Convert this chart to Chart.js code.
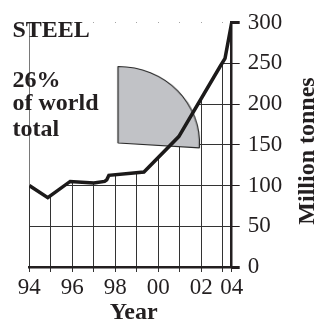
<!DOCTYPE html>
<html>
<head>
<meta charset="utf-8">
<title>Steel</title>
<script src="https://cdn.jsdelivr.net/npm/chart.js@4.4.1/dist/chart.umd.min.js"></script>
<style>
  html, body { margin: 0; padding: 0; background: #fff; }
  #stage { position: relative; width: 315px; height: 320px; overflow: hidden;
           font-family: 'Liberation Serif', 'Times New Roman', serif; color: #231f20; }
  .layer { position: absolute; left: 0; top: 0; width: 315px; height: 320px; }
  #pie-wrap { position: absolute; left: 40.3px; top: 65.3px; width: 156px; height: 156px;
              transform: scaleX(1.065); transform-origin: 78px 78px; }
  .note { position: absolute; font-weight: bold; font-size: 24px; line-height: 24px; white-space: nowrap; }
  #y-title { left: 205.5px; top: 138.5px; width: 200px; text-align: center; transform: rotate(-90deg); }
</style>
</head>
<body>
<div id="stage">
  <div class="layer"><canvas id="gridChart"></canvas></div>
  <div id="pie-wrap"><canvas id="shareChart"></canvas></div>
  <div class="layer"><canvas id="lineChart"></canvas></div>
  <div class="note" style="left:12.5px;top:16.6px">STEEL</div>
  <div class="note" style="left:12.5px;top:67.2px">26%</div>
  <div class="note" style="left:12.5px;top:90.2px">of world</div>
  <div class="note" style="left:12.5px;top:116px">total</div>
  <div class="note" style="left:109.7px;top:298.8px">Year</div>
  <div class="note" id="y-title">Million tonnes</div>
</div>
<script>
// production curve (x in years, the right axis sits a bit before 2004)
const years = [1994, 1994.86, 1995.9, 1997.0, 1997.5, 1997.6, 1997.7, 1999.33, 2000.95, 2002.87, 2003.1, 2003.41];
const tonnes = [100, 85, 105, 103, 105, 107, 112.5, 116.6, 160, 246, 256, 300];

const xTickValues = [1994, 1995, 1996, 1997, 1998, 1999, 2000, 2001, 2002, 2003, 2003.41];
const xTickLabels = ['94', '', '96', '', '98', '', '00', '', '02', '', '04'];
const yTickValues = [0, 50, 100, 150, 200, 250, 300];

const shareLabels = ['Share of world total', 'Rest of world'];
const shareValues = [26, 74];

Chart.defaults.font.family = "'Liberation Serif', 'Times New Roman', serif";

const ink = '#231f20';
const clear = 'rgba(0,0,0,0)';
const points = years.map((x, i) => ({ x: x, y: tonnes[i] }));

// same layout for the grid layer and the line layer, so they sit exactly on top of each other
function axisOptions(isGrid) {
    return {
        responsive: true,
        maintainAspectRatio: false,
        animation: false,
        events: [],
        layout: { padding: { left: 29.3, top: 22.5, right: 0, bottom: 0 } },
        plugins: { legend: { display: false }, tooltip: { enabled: false } },
        scales: {
            x: {
                type: 'linear',
                min: xTickValues[0],
                max: xTickValues[xTickValues.length - 1],
                afterBuildTicks: s => { s.ticks = xTickValues.map(v => ({ value: v })); },
                afterFit: s => { s.height = 53; s.paddingLeft = 0; s.paddingRight = 0; },
                grid: { color: isGrid ? '#333' : clear, lineWidth: 1, tickLength: 5 },
                border: { display: !isGrid, color: ink, width: 2.5 },
                ticks: {
                    autoSkip: false, maxRotation: 0, padding: 2,
                    color: isGrid ? ink : clear, font: { size: 23 },
                    callback: (v, i) => xTickLabels[i]
                }
            },
            y: {
                position: 'right',
                min: 0,
                max: 300,
                afterBuildTicks: s => { s.ticks = yTickValues.map(v => ({ value: v })); },
                afterFit: s => { s.width = 83.3; s.paddingTop = 0; s.paddingBottom = 0; },
                grid: {
                    color: c => (!isGrid || (c.tick && c.tick.value === 300)) ? clear : '#333',
                    tickColor: isGrid ? ink : clear,
                    lineWidth: 1,
                    tickWidth: c => (c.tick && (c.tick.value === 0 || c.tick.value === 300)) ? 3 : 1,
                    tickLength: 8
                },
                border: { display: !isGrid, color: ink, width: 2.5 },
                ticks: { padding: 8, color: isGrid ? ink : clear, font: { size: 23 }, callback: v => String(v) }
            }
        }
    };
}

// bottom layer: grid, tick labels, and white above the curve so the grid only shows below it
new Chart(document.getElementById('gridChart'), {
    type: 'line',
    data: {
        datasets: [{
            data: points,
            borderColor: clear,
            borderWidth: 0,
            pointRadius: 0,
            fill: 'end',
            backgroundColor: '#fff'
        }]
    },
    options: axisOptions(true)
});

// middle layer: the 26% slice
new Chart(document.getElementById('shareChart'), {
    type: 'pie',
    data: {
        labels: shareLabels,
        datasets: [{
            data: shareValues,
            backgroundColor: ['#c1c2c6', clear],
            borderColor: ['#2b2b2b', clear],
            borderWidth: [1.2, 0],
            radius: 76.5
        }]
    },
    options: {
        responsive: true,
        maintainAspectRatio: false,
        animation: false,
        events: [],
        layout: { padding: 0 },
        plugins: { legend: { display: false }, tooltip: { enabled: false } }
    }
});

// top layer: the production line and the axis lines
new Chart(document.getElementById('lineChart'), {
    type: 'line',
    data: {
        datasets: [{
            data: points,
            borderColor: '#1c1a1a',
            borderWidth: 3.5,
            pointRadius: 0,
            tension: 0,
            fill: false
        }]
    },
    options: axisOptions(false)
});
</script>
</body>
</html>
